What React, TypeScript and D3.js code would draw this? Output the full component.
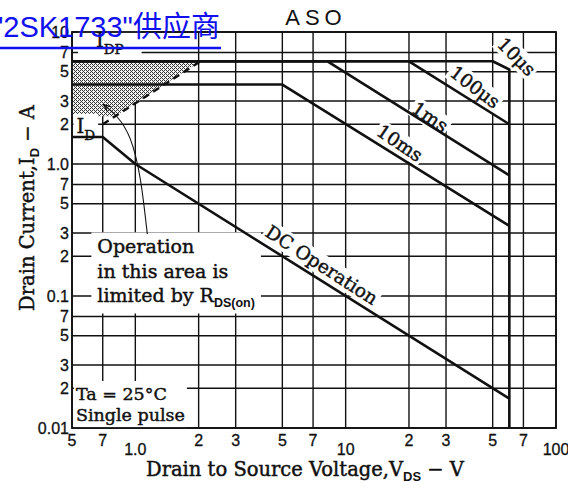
import React, { useEffect, useRef } from "react";
import * as d3 from "d3";

type Pt = [number, number];

// axis ticks
const xTicks = [0.5, 0.7, 1, 2, 3, 5, 7, 10, 20, 30, 50, 70, 100];
const xTickLabels = ["5", "7", "1.0", "2", "3", "5", "7", "10", "2", "3", "5", "7", "100"];
const yTicks = [0.01, 0.02, 0.03, 0.05, 0.07, 0.1, 0.2, 0.3, 0.5, 0.7, 1, 2, 3, 5, 7, 10];
const yTickLabels = ["0.01", "2", "3", "5", "7", "0.1", "2", "3", "5", "7", "1.0", "2", "3", "5", "7", "10"];

// safe operating area curves (VDS [V], ID [A])
const dcLine: Pt[] = [[0.5, 1.6], [0.7, 1.6], [1, 1], [60, 0.0167]];
const ms10Line: Pt[] = [[0.5, 4], [5, 4], [60, 0.34]];
const ms1Line: Pt[] = [[0.5, 6], [8.2, 6], [60, 0.82]];
const us100Line: Pt[] = [[0.5, 6], [20, 6], [60, 2.0]];
const us10Line: Pt[] = [[0.5, 6], [50, 6], [60, 5.2], [60, 0.01]];
const rdsLine: Pt[] = [[0.7, 2.0], [2.04, 6]];
const rdsArea: Pt[] = [[0.5, 6], [2.04, 6], [0.8, 2.3], [0.5, 2.3]];
const leader: Pt[] = [[1.14, 0.295], [1.056, 0.77], [0.946, 1.55], [0.82, 2.27], [0.71, 2.8]];

// rotated curve labels: text, V, I, angle
const curveLabels: [string, number, number, number][] = [
  ["10μs", 65, 6.5, 45],
  ["100μs", 41.2, 3.83, 37],
  ["1ms", 25.2, 2.27, 34],
  ["10ms", 18.1, 1.44, 34],
  ["DC Operation", 7.7, 0.172, 33],
];

// stipple dots for the R_DS(on) shaded area (4x4 dither cell)
const stipple: Pt[] = [[0, 0], [2, 0], [1, 1], [0, 2], [2, 2], [3, 3]];

export default function App() {
  const ref = useRef<SVGSVGElement | null>(null);

  useEffect(() => {
    if (!ref.current) return;
    const svg = d3.select(ref.current);
    svg.selectAll("*").remove();

    const x = d3.scaleLog().domain([0.5, 100]).range([72, 556]);
    const y = d3.scaleLog().domain([0.01, 10]).range([428, 32]);
    const serif = "DejaVu Serif";
    const sans = "Liberation Sans";
    const ink = "#111";

    const defs = svg.append("defs");
    const pat = defs.append("pattern").attr("id", "dots")
      .attr("width", 4).attr("height", 4).attr("patternUnits", "userSpaceOnUse");
    pat.append("rect").attr("width", 4).attr("height", 4).attr("fill", "#f4f4f4");
    stipple.forEach(([px, py]) =>
      pat.append("rect").attr("x", px).attr("y", py).attr("width", 1).attr("height", 1).attr("fill", "#333"));
    defs.append("marker").attr("id", "arr").attr("viewBox", "0 0 10 10")
      .attr("refX", 9).attr("refY", 5).attr("markerWidth", 7).attr("markerHeight", 7)
      .attr("orient", "auto")
      .append("path").attr("d", "M0,1L10,5L0,9").attr("fill", "none").attr("stroke", ink).attr("stroke-width", 1.6);

    svg.append("rect").attr("width", 568).attr("height", 488).attr("fill", "#fff");

    // grid
    const grid = svg.append("g").attr("stroke", ink).attr("stroke-width", 1.4);
    grid.selectAll("line.v").data(xTicks).enter().append("line")
      .attr("x1", d => x(d)).attr("x2", d => x(d)).attr("y1", y(10)).attr("y2", y(0.01));
    grid.selectAll("line.h").data(yTicks).enter().append("line")
      .attr("y1", d => y(d)).attr("y2", d => y(d)).attr("x1", x(0.5)).attr("x2", x(100));

    const line = d3.line<Pt>().x(d => x(d[0])).y(d => y(d[1]));

    svg.append("path").attr("d", line(rdsArea) + "Z").attr("fill", "url(#dots)");

    const bgLayer = svg.append("g");
    const curveLayer = svg.append("g");
    const textLayer = svg.append("g").attr("fill", ink).attr("font-family", serif)
      .attr("stroke", ink).attr("stroke-width", 0.45);

    const addBg = (t: d3.Selection<SVGTextElement, unknown, null, undefined>,
      parent: d3.Selection<SVGGElement, unknown, null, undefined>, padX: number, padY: number) => {
      const b = (t.node() as SVGTextElement).getBBox();
      parent.append("rect").attr("x", b.x - padX).attr("y", b.y - padY)
        .attr("width", b.width + padX * 2).attr("height", b.height + padY * 2).attr("fill", "#fff");
    };

    // curves
    [dcLine, ms10Line, ms1Line, us100Line, us10Line].forEach(pts => {
      curveLayer.append("path").attr("d", line(pts)).attr("fill", "none")
        .attr("stroke", ink).attr("stroke-width", 2.6).attr("stroke-linejoin", "round");
    });
    curveLayer.append("path").attr("d", line(rdsLine)).attr("fill", "none")
      .attr("stroke", ink).attr("stroke-width", 2.4).attr("stroke-dasharray", "7,5");
    curveLayer.append("path").attr("d", d3.line<Pt>().x(d => x(d[0])).y(d => y(d[1])).curve(d3.curveNatural)(leader))
      .attr("fill", "none").attr("stroke", ink).attr("stroke-width", 1.1).attr("marker-end", "url(#arr)");

    // rotated labels
    curveLabels.forEach(([txt, v, i, a]) => {
      const tr = `translate(${x(v)},${y(i)}) rotate(${a})`;
      const g = textLayer.append("g").attr("transform", tr);
      const t = g.append("text").attr("text-anchor", "middle").attr("dominant-baseline", "central")
        .attr("font-size", 18.5).text(txt);
      addBg(t, bgLayer.append("g").attr("transform", tr), 2, 0);
    });

    // I_DP and I_D labels
    const subLabel = (main: string, sub: string, v: number, i: number) => {
      const t = textLayer.append("text").attr("x", x(v)).attr("y", y(i)).attr("font-size", 19.5);
      t.append("tspan").text(main);
      t.append("tspan").attr("font-size", 13.5).attr("dy", 7).text(sub);
      return t;
    };
    addBg(subLabel("I", "DP", 0.65, 7.7), bgLayer, 18, 3);
    addBg(subLabel("I", "D", 0.525, 1.72), bgLayer, 3, 1);

    // operation note
    const op = textLayer.append("text").attr("x", x(0.66)).attr("y", y(0.21)).attr("font-size", 19);
    op.append("tspan").text("Operation");
    op.append("tspan").attr("x", x(0.66)).attr("dy", 25).text("in this area is");
    op.append("tspan").attr("x", x(0.66)).attr("dy", 24).text("limited by R");
    op.append("tspan").attr("font-size", 12.5).attr("dy", 5).attr("font-family", sans).attr("font-weight", "bold")
      .attr("stroke-width", 0).text("DS(on)");
    addBg(op, bgLayer, 6, 3);

    const ta = textLayer.append("text").attr("x", x(0.522)).attr("y", y(0.0163)).attr("font-size", 17.5);
    ta.append("tspan").text("Ta = 25°C");
    ta.append("tspan").attr("x", x(0.522)).attr("dy", 21).text("Single pulse");
    addBg(ta, bgLayer, 2, 3);

    // frame
    svg.append("rect").attr("x", x(0.5)).attr("y", y(10)).attr("width", x(100) - x(0.5))
      .attr("height", y(0.01) - y(10)).attr("fill", "none").attr("stroke", ink).attr("stroke-width", 1.8);

    // tick labels
    const tl = svg.append("g").attr("font-family", sans).attr("font-size", 16).attr("fill", ink)
      .attr("stroke", ink).attr("stroke-width", 0.3);
    tl.selectAll("text.y").data(yTicks).enter().append("text")
      .attr("x", 69).attr("y", d => y(d)).attr("text-anchor", "end").attr("dominant-baseline", "central")
      .text((_, k) => yTickLabels[k]);
    tl.selectAll("text.x").data(xTicks).enter().append("text")
      .attr("x", d => x(d))
      .attr("y", (_, k) => (xTickLabels[k].length > 1 ? 455 : 446))
      .attr("text-anchor", "middle")
      .text((_, k) => xTickLabels[k]);

    // title and axis titles
    svg.append("text").attr("x", 316).attr("y", 25).attr("text-anchor", "middle")
      .attr("font-family", sans).attr("font-size", 22).attr("letter-spacing", 5).attr("fill", ink).text("ASO");

    const xt = svg.append("text").attr("x", 305).attr("y", 476).attr("text-anchor", "middle")
      .attr("font-family", serif).attr("font-size", 19.5).attr("fill", ink).attr("stroke", ink).attr("stroke-width", 0.45);
    xt.append("tspan").text("Drain to Source Voltage,V");
    xt.append("tspan").attr("font-size", 13).attr("dy", 5).attr("font-family", sans).attr("font-weight", "bold")
      .attr("stroke-width", 0).text("DS");
    xt.append("tspan").attr("dy", -5).text(" − V");

    const yt = svg.append("text").attr("transform", "translate(34,208) rotate(-90)").attr("text-anchor", "middle")
      .attr("font-family", serif).attr("font-size", 19.5).attr("fill", ink).attr("stroke", ink).attr("stroke-width", 0.45);
    yt.append("tspan").text("Drain Current,I");
    yt.append("tspan").attr("font-size", 13).attr("dy", 5).attr("font-family", sans).attr("font-weight", "bold")
      .attr("stroke-width", 0).text("D");
    yt.append("tspan").attr("dy", -5).text(" − A");

    // blue overlay link text
    svg.append("text").attr("x", -7).attr("y", 37)
      .attr("font-family", "Liberation Sans, Noto Sans CJK SC").attr("font-size", 29).attr("fill", "#1010f0")
      .text("\"2SK1733\"供应商");
    svg.append("line").attr("x1", 0).attr("x2", 221).attr("y1", 48).attr("y2", 48)
      .attr("stroke", "#1010f0").attr("stroke-width", 2.4);
  }, []);

  return <svg ref={ref} width={568} height={488} style={{ position: "absolute", left: 0, top: 0 }} />;
}
